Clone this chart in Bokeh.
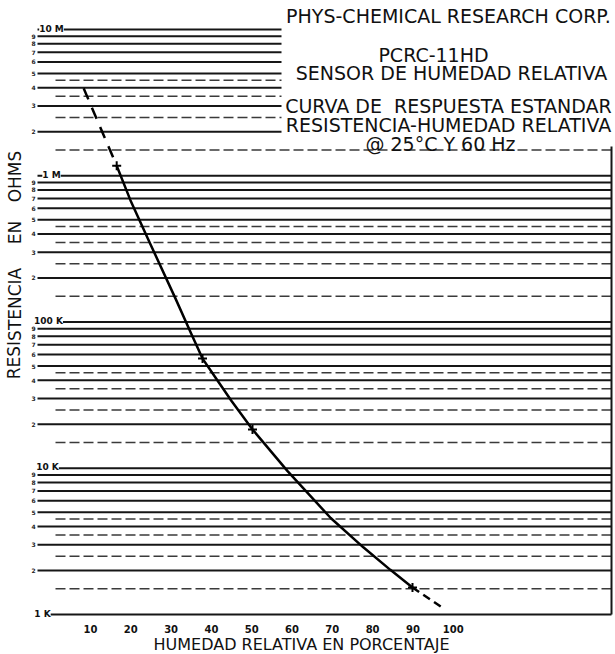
from bokeh.plotting import figure
from bokeh.models import LabelSet, Label, ColumnDataSource
from bokeh.core.properties import value
from bokeh.embed import file_html
from bokeh.resources import INLINE

# ---------------- data ----------------
rh_solid = [16.5, 19.9, 24.9, 31.1, 35.0, 37.8, 41.0, 45.0, 50.2, 58.9, 69.6, 77.7, 84.4, 89.9]
ohm_solid = [1.17e6, 6.81e5, 3.39e5, 1.445e5, 8.32e4, 5.62e4, 4.17e4, 2.88e4, 1.84e4,
             9.55e3, 4.57e3, 2.88e3, 2.02e3, 1.53e3]
rh_dash_top = [8.3, 16.5]
ohm_dash_top = [3.96e6, 1.17e6]
rh_dash_bottom = [89.9, 97.6]
ohm_dash_bottom = [1.53e3, 1.10e3]
rh_marks = [16.5, 37.8, 50.2, 89.9]
ohm_marks = [1.17e6, 5.62e4, 1.84e4, 1.53e3]

decade_values = [1e3, 1e4, 1e5, 1e6, 1e7]
decade_labels = ["1 K", "10 K", "100 K", "1 M", "10 M"]
solid_multipliers = [1, 2, 3, 4, 5, 6, 7, 8, 9]
dashed_multipliers = [1.5, 2.5, 3.5, 4.5]
rh_ticks = [10, 20, 30, 40, 50, 60, 70, 80, 90, 100]
rh_tick_labels = ["10", "20", "30", "40", "50", "60", "70", "80", "90", "100"]

title_lines = ["PHYS-CHEMICAL RESEARCH CORP.", "PCRC-11HD", "SENSOR DE HUMEDAD RELATIVA",
               "CURVA DE\u00a0\u00a0RESPUESTA ESTANDAR", "RESISTENCIA-HUMEDAD RELATIVA",
               "@ 25°C Y 60 Hz"]
x_title = "HUMEDAD RELATIVA EN PORCENTAJE"
y_title_words = ["RESISTENCIA", "EN", "OHMS"]

# ---------------- layout helpers (page pixels -> data) ----------------
W, H = 615, 654
PX_PER_RH = 4.03
PX_PER_DECADE = 146.25
FONT = "DejaVu Sans"

def xd(px):
    return 10 + (px - 90) / PX_PER_RH

def yd(py):
    return 10 ** (7 - (py - 29) / PX_PER_DECADE)

p = figure(width=W, height=H, y_axis_type="log", x_range=(xd(0), xd(W)),
           y_range=(yd(H), yd(0)), output_backend="svg", toolbar_location=None,
           min_border=0)
p.title.visible = False
p.outline_line_color = None
p.background_fill_color = "white"
p.border_fill_color = "white"
p.xgrid.visible = False
p.ygrid.visible = False
p.xaxis.visible = False
p.yaxis.visible = False

# ---------------- graph-paper lines ----------------
solid_vals = [m * 10 ** k for k in range(3, 7) for m in solid_multipliers] + [1e7]
dashed_vals = [m * 10 ** k for k in range(3, 7) for m in dashed_multipliers]
title_cut = yd(146)
s_x0 = [xd(37)] * len(solid_vals)
s_x1 = [xd(281) if v > title_cut else xd(611) for v in solid_vals]
d_x0 = [xd(55)] * len(dashed_vals)
d_x1 = [xd(281) if v > title_cut else xd(611) for v in dashed_vals]
p.segment(s_x0, solid_vals, s_x1, solid_vals, line_color="#161616", line_width=2)
p.segment(d_x0, dashed_vals, d_x1, dashed_vals, line_color="#3a3a3a", line_width=1.5,
          line_dash="10 4")
# right border
p.segment([xd(611)], [yd(614)], [xd(611)], [title_cut], line_color="#161616", line_width=2)

# ---------------- curve ----------------
p.line(rh_solid, ohm_solid, line_color="black", line_width=2.5, line_join="round")
p.line(rh_dash_top, ohm_dash_top, line_color="black", line_width=2.5, line_dash="12 9")
p.line(rh_dash_bottom, ohm_dash_bottom, line_color="black", line_width=2.5, line_dash="8 5")
p.scatter(rh_marks, ohm_marks, marker="cross", size=9, line_color="black", line_width=2)

# ---------------- decade labels ----------------
dsrc = ColumnDataSource(dict(x=[xd(42), xd(47), xd(48), xd(51), xd(51)],
                             y=decade_values, t=decade_labels))
p.add_layout(LabelSet(x="x", y="y", text="t", source=dsrc, text_align="center",
                      text_baseline="middle", y_offset=1, text_font=value(FONT),
                      text_font_size="9px", text_font_style="bold", text_color="#111",
                      background_fill_color="white", background_fill_alpha=1.0))

# minor digits at left edge
mv = [m * 10 ** k for k in range(3, 7) for m in solid_multipliers[1:]]
mt = [str(m) for k in range(3, 7) for m in solid_multipliers[1:]]
msrc = ColumnDataSource(dict(x=[xd(33)] * len(mv), y=mv, t=mt))
p.add_layout(LabelSet(x="x", y="y", text="t", source=msrc, text_align="center",
                      text_baseline="middle", text_font=value(FONT),
                      text_font_size="6px", text_font_style="bold", text_color="#222"))

# x tick labels
tsrc = ColumnDataSource(dict(x=rh_ticks, y=[yd(628)] * len(rh_ticks), t=rh_tick_labels))
p.add_layout(LabelSet(x="x", y="y", text="t", source=tsrc, text_align="center",
                      text_baseline="middle", text_font=value(FONT),
                      text_font_size="10px", text_font_style="bold", text_color="#111"))

# ---------------- title block ----------------
title_pos = [(448, 15), (433, 54), (451, 72), (448, 105), (448, 124), (440, 143)]
for txt, (px, py) in zip(title_lines, title_pos):
    p.add_layout(Label(x=xd(px), y=yd(py), text=txt, text_align="center",
                       text_baseline="middle", text_font=FONT,
                       text_font_size="19px", text_color="#111"))

# ---------------- axis titles ----------------
p.add_layout(Label(x=xd(301), y=yd(644), text=x_title, text_align="center",
                   text_baseline="middle", text_font=FONT,
                   text_font_size="16px", text_color="#111"))
for word, cy in zip(y_title_words, [323, 232, 176]):
    p.add_layout(Label(x=xd(14), y=yd(cy), text=word, text_align="center",
                       text_baseline="middle", angle=1.5707963, text_font=FONT,
                       text_font_size="17px", text_color="#111"))

open("out.html", "w").write(file_html(p, INLINE))
